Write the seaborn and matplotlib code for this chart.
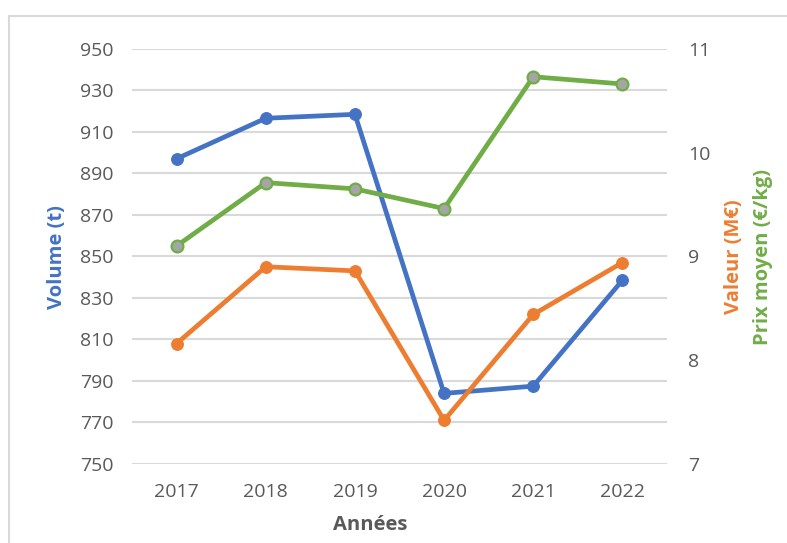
import matplotlib
matplotlib.use("Agg")
import matplotlib.pyplot as plt
from matplotlib.lines import Line2D
import numpy as np
import pandas as pd
import seaborn as sns

# Données annuelles
annees = ["2017", "2018", "2019", "2020", "2021", "2022"]
volume_t = [897, 916.5, 918.4, 784, 787.5, 838.5]
valeur_meur = [8.16, 8.90, 8.86, 7.42, 8.44, 8.94]
prix_moyen = [9.10, 9.71, 9.65, 9.46, 10.73, 10.66]

left_ticks = list(range(750, 951, 20))
right_ticks = [7, 8, 9, 10, 11]

BLUE = "#4472C4"
ORANGE = "#ED7D31"
GREEN = "#70AD47"
GREY_MARK = "#A5A5A5"
GRID = "#D9D9D9"
TXT = "#595959"

sns.set_theme(style="white")
plt.rcParams["font.family"] = ["Open Sans", "DejaVu Sans"]

pos = np.arange(len(annees))
df = pd.DataFrame({
    "pos": pos,
    "annee": annees,
    "volume": volume_t,
    "valeur": valeur_meur,
    "prix": prix_moyen,
})

W, H = 787, 543
fig = plt.figure(figsize=(W / 100, H / 100), dpi=100)
fig.patch.set_facecolor("white")

x0, x1, y_top, y_bot = 132, 667, 48.7, 464
ax = fig.add_axes([x0 / W, 1 - y_bot / H, (x1 - x0) / W, (y_bot - y_top) / H])
ax2 = ax.twinx()

lw = 3.4
ms = 8.5
sns.lineplot(data=df, x="pos", y="volume", ax=ax, color=BLUE, linewidth=lw,
             marker="o", markersize=ms, markeredgecolor=BLUE,
             markerfacecolor=BLUE, solid_joinstyle="round", zorder=3)
sns.lineplot(data=df, x="pos", y="valeur", ax=ax2, color=ORANGE, linewidth=lw,
             marker="o", markersize=ms, markeredgecolor=ORANGE,
             markerfacecolor=ORANGE, solid_joinstyle="round", zorder=3)
sns.lineplot(data=df, x="pos", y="prix", ax=ax2, color=GREEN, linewidth=lw,
             marker="o", markersize=ms, markeredgecolor=GREEN,
             markeredgewidth=1.6, markerfacecolor=GREY_MARK,
             solid_joinstyle="round", zorder=4)

ax.set_xlim(-0.5, len(annees) - 0.5)
ax.set_ylim(750, 950)
ax.set_yticks(left_ticks)
ax.set_xticks(pos)
ax.set_xticklabels(annees)
ax2.set_ylim(7, 11)
ax2.set_yticks(right_ticks)

ax.yaxis.grid(True, color=GRID, linewidth=1.5)
ax.set_axisbelow(True)
for a in (ax, ax2):
    for s in a.spines.values():
        s.set_visible(False)
    a.set_xlabel("")
    a.set_ylabel("")
    a.tick_params(length=0, labelsize=14, labelcolor=TXT)
ax.tick_params(axis="y", pad=13)
ax.tick_params(axis="x", pad=14)
ax2.tick_params(axis="y", pad=15)

# Titres des axes
fig.text(57 / W, 1 - 257 / H, "Volume (t)", rotation=90, color=BLUE,
         fontsize=14.5, fontweight="bold", ha="center", va="center")
fig.text(734 / W, 1 - 257 / H, "Valeur (M€)", rotation=90, color=ORANGE,
         fontsize=14.5, fontweight="bold", ha="center", va="center")
fig.text(763 / W, 1 - 257 / H, "Prix moyen (€/kg)", rotation=90, color=GREEN,
         fontsize=14.5, fontweight="bold", ha="center", va="center")
fig.text(370 / W, 1 - 525 / H, "Années", color=TXT,
         fontsize=14.5, fontweight="bold", ha="center", va="center")

# Cadre du graphique
fig.add_artist(Line2D([8.5 / W, 8.5 / W], [0, 1 - 15.5 / H],
                      transform=fig.transFigure, color=GRID, linewidth=1.5))
fig.add_artist(Line2D([8.5 / W, 1], [1 - 15.5 / H, 1 - 15.5 / H],
                      transform=fig.transFigure, color=GRID, linewidth=1.5))

fig.savefig("out.png", dpi=100, facecolor="white")
